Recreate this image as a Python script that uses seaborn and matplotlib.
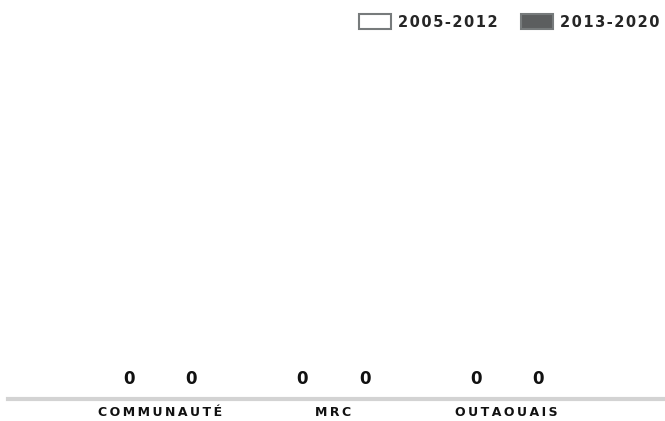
import seaborn as sns
import matplotlib.pyplot as plt
import pandas as pd

# data
categories = ["COMMUNAUTÉ", "MRC", "OUTAOUAIS"]
periods = ["2005-2012", "2013-2020"]
values_2005_2012 = [0, 0, 0]
values_2013_2020 = [0, 0, 0]

df = pd.DataFrame({
    "categorie": categories * 2,
    "periode": [periods[0]] * 3 + [periods[1]] * 3,
    "valeur": values_2005_2012 + values_2013_2020,
})

sns.set_theme(style="white")
plt.rcParams["font.family"] = ["DejaVu Sans"]

def spaced(s, sep="\u200a"):
    # wide letter spacing like the original
    return sep.join(s)

fig = plt.figure(figsize=(6.65, 4.21), dpi=100)
ax = fig.add_axes([0.012, 0.052, 0.988, 0.85])

palette = {"2005-2012": "white", "2013-2020": "#5b5e5f"}
sns.barplot(data=df, x="categorie", y="valeur", hue="periode", order=categories,
            hue_order=periods, palette=palette, width=0.72, edgecolor="#777b7c",
            linewidth=1.5, ax=ax)

for c in ax.containers:
    ax.bar_label(c, fmt="%d", padding=8, fontsize=12, fontweight="bold", color="#111111")

ax.set_ylim(0, 1)
ax.set_xlim(-0.875, 2.912)
ax.set_xlabel("")
ax.set_ylabel("")
ax.set_yticks([])
ax.set_xticks(range(len(categories)))
ax.set_xticklabels([spaced(c, "\u2009") for c in categories], fontsize=9, fontweight="bold", color="#111111")
ax.tick_params(axis="x", length=0, pad=5)
for s in ["top", "left", "right"]:
    ax.spines[s].set_visible(False)
ax.spines["bottom"].set_color("#d3d3d3")
ax.spines["bottom"].set_linewidth(3)

handles, labels = ax.get_legend_handles_labels()
for h in handles:
    h.set_edgecolor("#777b7c")
ax.legend(handles, [spaced(l) for l in labels], ncol=2, frameon=False,
          loc="upper right", bbox_to_anchor=(1.0, 0.98), bbox_transform=fig.transFigure,
          prop={"weight": "bold", "size": 10.5}, handlelength=2.2, handleheight=1.2,
          handletextpad=0.45, columnspacing=1.6, borderaxespad=0.0)

fig.savefig("out.png", dpi=100)
